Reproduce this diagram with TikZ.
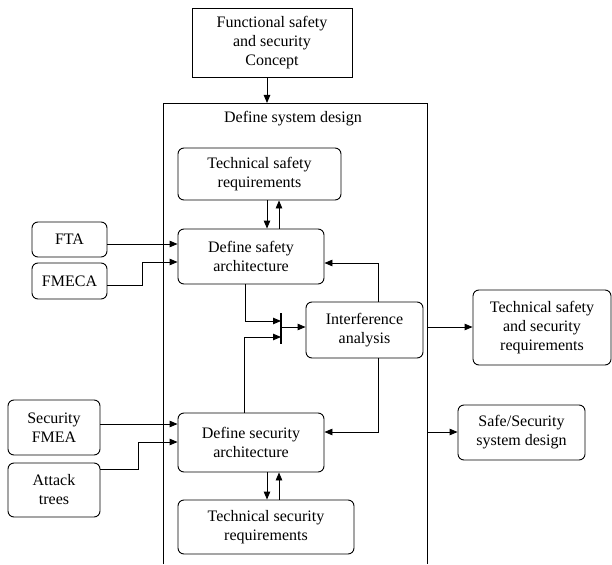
\documentclass[tikz,border=0pt]{standalone}
\usepackage{fontspec}
\setmainfont{Liberation Serif}
\usetikzlibrary{arrows.meta}
\begin{document}
\begin{tikzpicture}[x=1pt,y=-1pt,
  every node/.style={font=\fontsize{16}{19}\selectfont, align=center, inner sep=0pt},
  rbox/.style={draw, rounded corners=6pt, line width=0.9pt},
  sbox/.style={draw, line width=0.9pt},
  conn/.style={line width=0.9pt},
  arr/.style={conn, -{Triangle[length=8pt,width=6.5pt]}},
  tbar/.style={line width=2.6pt}]
\useasboundingbox (0,0) rectangle (612,564);
% outer system frame (open at bottom)
\coordinate (sysL) at (163,564);
\coordinate (sysTL) at (163,103);
\coordinate (sysTR) at (427,103);
\coordinate (sysR) at (427,564);
\draw[conn] (sysL) -- (sysTL) -- (sysTR) -- (sysR);
\node (sysLabel) at (293,119) {Define system design};

\node[sbox, minimum width=160pt, minimum height=69pt] (concept) at (272,42.5) {Functional safety\\and security\\Concept};
\node[rbox, minimum width=163pt, minimum height=52pt] (tsr) at (259.5,174) {Technical safety\\requirements};
\node[rbox, minimum width=146pt, minimum height=55pt] (dsa) at (251,256.5) {Define safety\\architecture};
\node[rbox, minimum width=75pt, minimum height=35pt] (fta) at (69.5,239.5) {FTA};
\node[rbox, minimum width=75pt, minimum height=36pt] (fmeca) at (69.5,281) {FMECA};
\node[rbox, minimum width=117pt, minimum height=56pt] (ia) at (364.5,330) {Interference\\analysis};
\node[rbox, minimum width=138pt, minimum height=75pt] (tssr) at (542,327.5) {Technical safety\\and security\\requirements};
\node[rbox, minimum width=127pt, minimum height=55pt] (ssd) at (521.5,432.5) {Safe/Security\\system design};
\node[rbox, minimum width=92pt, minimum height=55pt] (sfmea) at (54,427.5) {Security\\FMEA};
\node[rbox, minimum width=92pt, minimum height=54pt] (atk) at (54,490) {Attack\\trees};
\node[rbox, minimum width=146pt, minimum height=59pt] (dsec) at (251,442.5) {Define security\\architecture};
\node[rbox, minimum width=176pt, minimum height=54pt] (tsec) at (266,527) {Technical security\\requirements};

% join bar
\coordinate (barT) at (281,313);
\coordinate (barB) at (281,344);
\draw[tbar] (barT) -- (barB);

% connectors
\draw[arr] (concept.south -| 267,0) -- (sysTL -| 267,0);

\draw[arr] ([yshift=-4.5pt]fta.east) -- ([yshift=-4.5pt]fta.east -| dsa.west);
\draw[arr] ([yshift=-4pt]fmeca.east) -| (142,262) -- (142,262 -| dsa.west);
\draw[arr] ([yshift=3.5pt]sfmea.east) -- ([yshift=3.5pt]sfmea.east -| dsec.west);
\draw[arr] ([yshift=21pt]atk.east) -| (138,442) -- (138,442 -| dsec.west);

\draw[arr] (tsr.south -| 267,0) -- (dsa.north -| 267,0);
\draw[arr] (dsa.north -| 279,0) -- (tsr.south -| 279,0);
\draw[arr] (dsec.south -| 267,0) -- (tsec.north -| 267,0);
\draw[arr] (tsec.north -| 279,0) -- (dsec.south -| 279,0);

\draw[arr] (dsa.south -| 245,0) |- (barT |- 0,321);
\draw[arr] (dsec.north -| 244,0) |- (barT |- 0,337);
\draw[arr] (barT |- 0,327) -- (ia.west |- 0,327);

\draw[arr] (ia.north -| 378,0) |- (dsa.east |- 0,263);
\draw[arr] (ia.south -| 378,0) |- (dsec.east |- 0,432);

\draw[arr] (sysTR |- 0,327) -- (tssr.west |- 0,327);
\draw[arr] (sysTR |- 0,432) -- (ssd.west |- 0,432);
\end{tikzpicture}
\end{document}
